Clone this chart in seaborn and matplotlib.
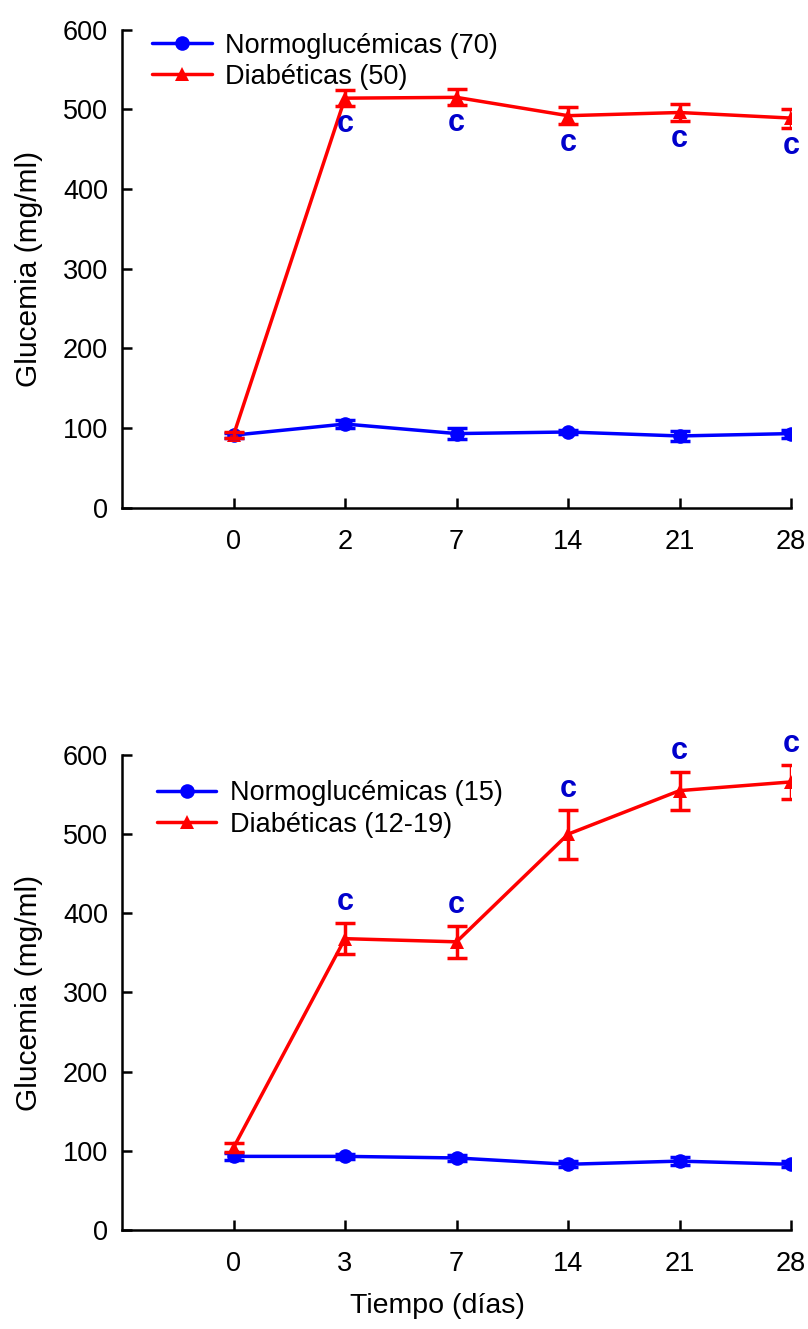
import numpy as np
import pandas as pd
import seaborn as sns
import matplotlib.pyplot as plt

# top panel
days_a = ['0', '2', '7', '14', '21', '28']
normo_a = [91, 105, 93, 95, 90, 93]
normo_a_err = [3, 5, 7, 3, 6, 5]
diab_a = [91, 514, 515, 492, 496, 489]
diab_a_err = [4, 10, 10, 11, 11, 12]
sig_a = ['', 'c', 'c', 'c', 'c', 'c']
groups_a = ['Normoglucémicas (70)', 'Diabéticas (50)']

# bottom panel
days_b = ['0', '3', '7', '14', '21', '28']
normo_b = [93, 93, 91, 83, 87, 83]
normo_b_err = [4, 3, 4, 4, 5, 4]
diab_b = [104, 368, 364, 500, 555, 566]
diab_b_err = [6, 20, 20, 31, 24, 21]
sig_b = ['', 'c', 'c', 'c', 'c', 'c']
groups_b = ['Normoglucémicas (15)', 'Diabéticas (12-19)']

blue = '#0000ff'
red = '#ff0000'
sig_color = '#0000cc'

sns.set_style('ticks')
plt.rcParams['font.family'] = ['Liberation Sans', 'DejaVu Sans']
plt.rcParams['axes.linewidth'] = 1.8
plt.rcParams['text.color'] = 'black'
plt.rcParams['axes.labelcolor'] = 'black'
plt.rcParams['xtick.color'] = 'black'
plt.rcParams['ytick.color'] = 'black'
plt.rcParams['axes.edgecolor'] = 'black'

FS = 19.5


def panel(ax, days, normo, normo_err, diab, diab_err, sig, groups, below, leg_xy):
    pos = np.arange(len(days))
    df = pd.DataFrame({
        'pos': np.concatenate([pos, pos]),
        'glu': normo + diab,
        'grupo': [groups[0]] * len(days) + [groups[1]] * len(days),
    })
    sns.lineplot(data=df, x='pos', y='glu', hue='grupo', style='grupo',
                 markers=['o', '^'], dashes=False, palette=[blue, red],
                 linewidth=2.5, markersize=10.5, markeredgewidth=0, ax=ax)
    ax.errorbar(pos, normo, yerr=normo_err, fmt='none', ecolor=blue,
                elinewidth=2.5, capsize=7, capthick=2.5)
    ax.errorbar(pos, diab, yerr=diab_err, fmt='none', ecolor=red,
                elinewidth=2.5, capsize=7, capthick=2.5)

    # significance letters
    for p, m, e, s in zip(pos, diab, diab_err, sig):
        if not s:
            continue
        if below:
            xy, dy = (p, m - e), -13
        else:
            xy, dy = (p, m + e), 15
        ax.annotate(s, xy, xytext=(0, dy), textcoords='offset points',
                    ha='center', va='center', color=sig_color,
                    fontsize=22, fontweight='bold')

    ax.set_xlim(-1, len(days) - 1)
    ax.set_ylim(0, 600)
    ax.set_xticks(pos)
    ax.set_xticklabels(days)
    ax.set_yticks(range(0, 601, 100))
    ax.tick_params(axis='both', direction='in', length=7, width=1.8,
                   labelsize=FS)
    ax.tick_params(axis='x', pad=15)
    ax.tick_params(axis='y', pad=10)
    ax.set_ylabel('Glucemia (mg/ml)', fontsize=21.5, labelpad=14)
    ax.set_xlabel('')
    sns.despine(ax=ax)

    h, l = ax.get_legend_handles_labels()
    ax.legend(h, l, loc='upper left', bbox_to_anchor=leg_xy, frameon=False,
              fontsize=FS, handlelength=2.2, handletextpad=0.5,
              labelspacing=0.2, borderpad=0, borderaxespad=0)


fig = plt.figure(figsize=(8.08, 13.29), dpi=100)
ax1 = fig.add_axes([0.151, 0.618, 0.828, 0.3597])
ax2 = fig.add_axes([0.151, 0.0745, 0.828, 0.3574])

panel(ax1, days_a, normo_a, normo_a_err, diab_a, diab_a_err, sig_a, groups_a,
      True, (0.045, 0.994))
panel(ax2, days_b, normo_b, normo_b_err, diab_b, diab_b_err, sig_b, groups_b,
      False, (0.052, 0.947))
ax2.set_xlabel('Tiempo (días)', fontsize=20.5)
ax2.xaxis.set_label_coords(0.472, -0.132)

fig.savefig('out.png', dpi=100)
